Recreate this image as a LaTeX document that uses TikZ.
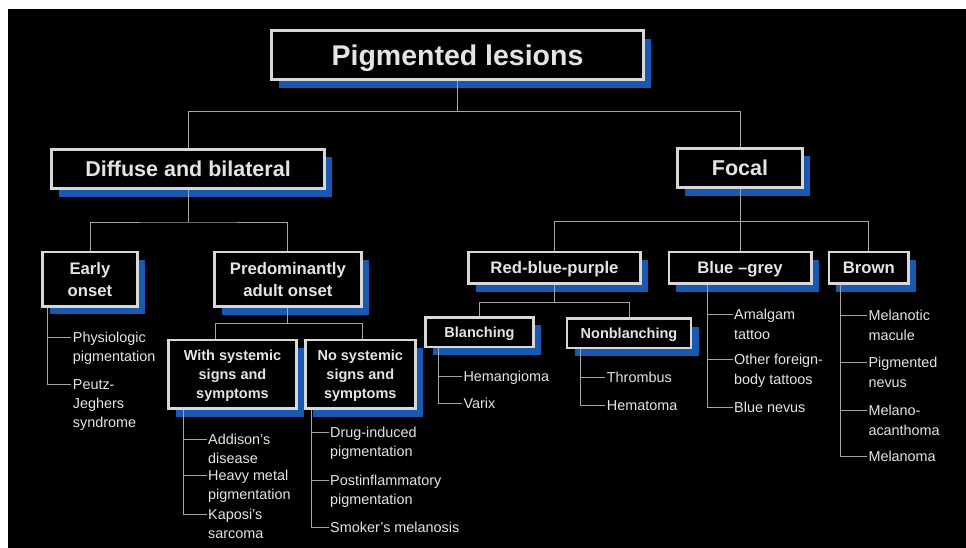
\documentclass[tikz,border=0pt]{standalone}
\usepackage{fontspec}
\setmainfont{Liberation Sans}
\usetikzlibrary{shadows,calc}
\definecolor{shblue}{RGB}{24,90,178}
\definecolor{bord}{RGB}{216,216,216}
\definecolor{txt}{RGB}{228,228,226}
\definecolor{conncol}{RGB}{165,165,165}
\newcommand{\lv}[1]{\begin{tabular}[t]{@{}l@{}}#1\end{tabular}}
\begin{document}
\begin{tikzpicture}[x=1pt,y=-1pt,
  box/.style={draw=bord, line width=2.6pt, fill=black, text=txt, align=center, inner sep=0pt, text depth=0pt,
     general shadow={fill=shblue, shadow xshift=7.5pt, shadow yshift=-8pt}},
  lvA/.style={font=\fontsize{28.5}{32}\selectfont\bfseries},
  lvB/.style={font=\fontsize{21.5}{24}\selectfont\bfseries},
  lvC/.style={font=\fontsize{16.7}{22.4}\selectfont\bfseries},
  lvD/.style={font=\fontsize{14.5}{18.7}\selectfont\bfseries},
  leaf/.style={text=txt, anchor=base west, inner xsep=1.5pt, inner ysep=0pt, font=\fontsize{14.4}{19}\selectfont},
  conn/.style={draw=conncol, line width=1pt}
]
\useasboundingbox (0,0) rectangle (966,548);
\fill[white] (0,0) rectangle (966,548);
\fill[black] (8,9) rectangle (966,548);

% boxes
\node[box, lvA, minimum width=372.4pt, minimum height=49.1pt] (title) at (457.5,55.2) {Pigmented lesions};
\node[box, lvB, minimum width=273.4pt, minimum height=39.4pt] (diffuse) at (188,169) {Diffuse and bilateral};
\node[box, lvB, minimum width=125.4pt, minimum height=39.4pt] (focal) at (740,168) {Focal};
\node[box, lvC, minimum width=95.4pt, minimum height=54.4pt] (early) at (90,279.2) {Early\\onset};
\node[box, lvC, minimum width=147.1pt, minimum height=54.7pt] (pred) at (287.9,279.3) {Predominantly\\adult onset};
\node[box, lvD, minimum width=128.4pt, minimum height=68.7pt] (with) at (232.5,374.3) {With systemic\\signs and\\symptoms};
\node[box, lvD, minimum width=110.1pt, minimum height=68.7pt] (nosys) at (360.3,374.3) {No systemic\\signs and\\symptoms};
\node[box, lvC, minimum width=171.8pt, minimum height=31.7pt] (rbp) at (554.5,267.8) {Red-blue-purple};
\node[box, lvC, minimum width=142.4pt, minimum height=31.7pt] (bluegrey) at (740,267.8) {Blue –grey};
\node[box, lvC, minimum width=79.7pt, minimum height=31.7pt] (brown) at (868.8,267.8) {Brown};
\node[box, lvD, minimum width=108.4pt, minimum height=29.7pt] (blanch) at (479.5,332.2) {Blanching};
\node[box, lvD, minimum width=124pt, minimum height=29.4pt] (nonbl) at (629,333.3) {Nonblanching};

% leaves
\node[leaf] (e1) at (71.2,342.5) {\lv{Physiologic\\pigmentation}};
\node[leaf] (e2) at (71.2,389.2) {\lv{Peutz-\\Jeghers\\syndrome}};
\node[leaf] (w1) at (206.5,444.2) {\lv{Addison's\\disease}};
\node[leaf] (w2) at (206.5,480.7) {\lv{Heavy metal\\pigmentation}};
\node[leaf] (w3) at (206.5,519.7) {\lv{Kaposi's\\sarcoma}};
\node[leaf] (n1) at (328.5,437.9) {\lv{Drug-induced\\pigmentation}};
\node[leaf] (n2) at (328.5,485.2) {\lv{Postinflammatory\\pigmentation}};
\node[leaf] (n3) at (328.5,532.5) {Smoker's melanosis};
\node[leaf] (b1) at (461.8,381.9) {Hemangioma};
\node[leaf] (b2) at (461.8,408.5) {Varix};
\node[leaf] (nb1) at (605.2,382.9) {Thrombus};
\node[leaf] (nb2) at (605.2,410.2) {Hematoma};
\node[leaf, font=\fontsize{14.4}{19.8}\selectfont] (g1) at (732.5,319.2) {\lv{Amalgam\\tattoo}};
\node[leaf, font=\fontsize{14.4}{19.8}\selectfont] (g2) at (732.5,364.5) {\lv{Other foreign-\\body tattoos}};
\node[leaf] (g3) at (732.5,412.5) {Blue nevus};
\node[leaf, font=\fontsize{14.4}{19.8}\selectfont] (r1) at (866.8,320.2) {\lv{Melanotic\\macule}};
\node[leaf, font=\fontsize{14.4}{19.8}\selectfont] (r2) at (866.8,367.5) {\lv{Pigmented\\nevus}};
\node[leaf, font=\fontsize{14.4}{19.8}\selectfont] (r3) at (866.8,415.9) {\lv{Melano-\\acanthoma}};
\node[leaf] (r4) at (866.8,461.9) {Melanoma};

% junctions
\coordinate (j1) at ($(title.south)+(0,30.3)$);
\coordinate (j2) at ($(diffuse.south)+(0,32)$);
\coordinate (j3) at ($(focal.south)+(0,32.3)$);
\coordinate (j4) at ($(rbp.south)+(0,17.3)$);
\coordinate (j5) at ($(pred.south)+(0,15.3)$);

% tree connectors
\draw[conn] (title.south) -- (j1);
\draw[conn] (diffuse.north) |- (j1) -| (focal.north);
\draw[conn] (diffuse.south) -- (j2);
\draw[conn] (early.north) |- (j2) -| (pred.north);
\draw[conn] (pred.south) -- (j5);
\draw[conn] ([xshift=-17.5pt]with.north) |- (j5) -| ([xshift=1.7pt]nosys.north);
\draw[conn] (focal.south) -- (j3) -- (bluegrey.north);
\draw[conn] (rbp.north) |- (j3) -| (brown.north);
\draw[conn] (rbp.south) -- (j4);
\draw[conn] (blanch.north) |- (j4) -| (nonbl.north);

% leaf connectors
\coordinate (ve) at ([xshift=6.7pt]early.south west);
\coordinate (vw) at ([xshift=16pt]with.south west);
\coordinate (vn) at ([xshift=8pt]nosys.south west);
\coordinate (vb) at ([xshift=14pt]blanch.south west);
\coordinate (vnb) at ([xshift=15pt]nonbl.south west);
\coordinate (vg) at ([xshift=40.4pt]bluegrey.south west);
\coordinate (vr) at ([xshift=12.7pt]brown.south west);
\foreach \v/\l in {ve/e1, ve/e2, vw/w1, vw/w2, vw/w3, vn/n1, vn/n2, vn/n3,
                   vb/b1, vb/b2, vnb/nb1, vnb/nb2, vg/g1, vg/g2, vg/g3,
                   vr/r1, vr/r2, vr/r3, vr/r4}
  \draw[conn] (\v) |- ([yshift=5.2pt]\l.base west);
\end{tikzpicture}
\end{document}
